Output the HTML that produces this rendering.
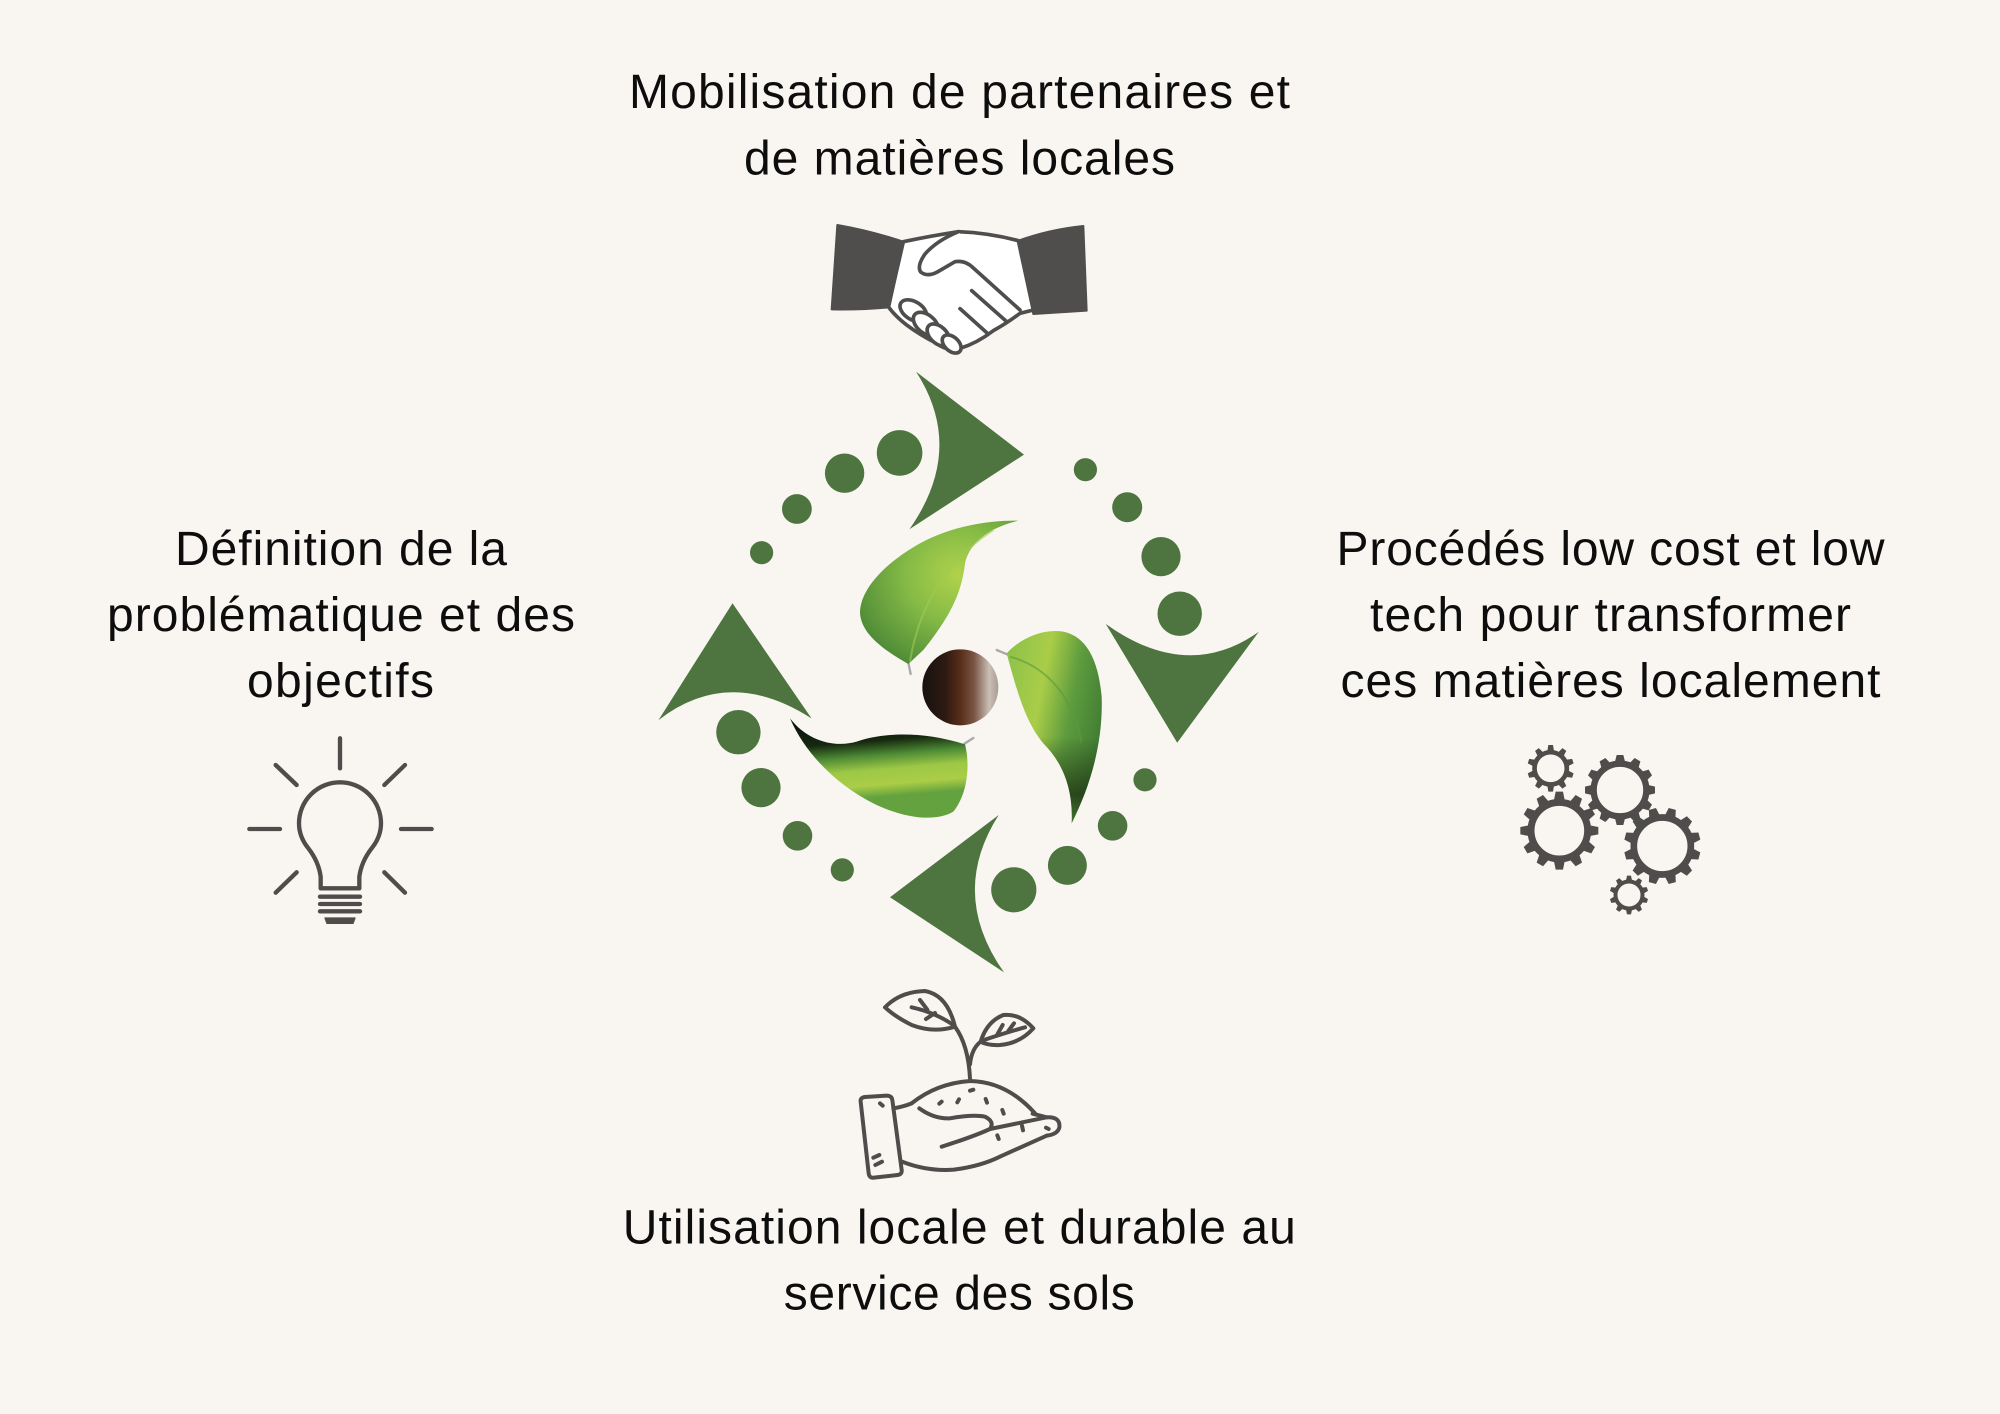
<!DOCTYPE html>
<html>
<head>
<meta charset="utf-8">
<style>
  html,body{margin:0;padding:0;background:#f9f6f1;}
  svg{display:block;}
  text{font-family:"Liberation Sans", Arial, sans-serif;font-size:48px;fill:#0d0d0d;text-anchor:middle;}
</style>
</head>
<body>
<svg width="2000" height="1414" viewBox="0 0 2000 1414" xmlns="http://www.w3.org/2000/svg">
  <defs>
    <linearGradient id="brown" x1="0" y1="0" x2="1" y2="0">
      <stop offset="0" stop-color="#171110"/>
      <stop offset="0.3" stop-color="#2e1a12"/>
      <stop offset="0.5" stop-color="#582d18"/>
      <stop offset="0.68" stop-color="#7a5544"/>
      <stop offset="0.88" stop-color="#c9bfb7"/>
      <stop offset="1" stop-color="#a79d95"/>
    </linearGradient>
    <radialGradient id="leaf1" cx="0.62" cy="0.38" r="0.72">
      <stop offset="0" stop-color="#b0d24a"/>
      <stop offset="0.45" stop-color="#86bb46"/>
      <stop offset="1" stop-color="#4c8936"/>
    </radialGradient>
    <linearGradient id="leaf2" x1="0" y1="0.2" x2="1" y2="0.6">
      <stop offset="0" stop-color="#8fc24a"/>
      <stop offset="0.35" stop-color="#aacd48"/>
      <stop offset="0.65" stop-color="#5e9c3e"/>
      <stop offset="1" stop-color="#3f7a32"/>
    </linearGradient>
    <linearGradient id="leaf2dark" x1="0" y1="0" x2="0" y2="1">
      <stop offset="0.55" stop-color="#1a2a10" stop-opacity="0"/>
      <stop offset="0.85" stop-color="#1a2a10" stop-opacity="0.7"/>
      <stop offset="1" stop-color="#1a2a10" stop-opacity="0.2"/>
    </linearGradient>
    <linearGradient id="leaf3" x1="0" y1="0.05" x2="0.12" y2="0.85">
      <stop offset="0" stop-color="#0a1208"/>
      <stop offset="0.3" stop-color="#16280f"/>
      <stop offset="0.48" stop-color="#4d8a35"/>
      <stop offset="0.66" stop-color="#9cc846"/>
      <stop offset="0.85" stop-color="#abcd47"/>
      <stop offset="1" stop-color="#63a23e"/>
    </linearGradient>
  </defs>

  <rect width="2000" height="1414" fill="#f9f6f1"/>

  <!-- TEXT -->
  <text x="959.5" y="108" textLength="661" lengthAdjust="spacing">Mobilisation de partenaires et</text>
  <text x="959.5" y="174.5" textLength="431" lengthAdjust="spacing">de matières locales</text>

  <text x="341" y="565" textLength="332" lengthAdjust="spacing">Définition de la</text>
  <text x="341" y="631" textLength="468" lengthAdjust="spacing">problématique et des</text>
  <text x="340.5" y="697" textLength="187" lengthAdjust="spacing">objectifs</text>

  <text x="1610.5" y="565" textLength="548" lengthAdjust="spacing">Procédés low cost et low</text>
  <text x="1610.5" y="631" textLength="481" lengthAdjust="spacing">tech pour transformer</text>
  <text x="1610.5" y="697" textLength="540" lengthAdjust="spacing">ces matières localement</text>

  <text x="959.3" y="1243.5" textLength="673" lengthAdjust="spacing">Utilisation locale et durable au</text>
  <text x="959.3" y="1309.5" textLength="351" lengthAdjust="spacing">service des sols</text>

  <!-- CENTER GRAPHIC: arrowheads + dots -->
  <g fill="#4e7440">
    <path d="M916,371.6 L1024,454.6 L909.4,529.3 Q965.9,448.7 916,371.6 Z"/>
    <circle cx="899.6" cy="452.9" r="22.8"/>
    <circle cx="844.6" cy="473.2" r="19.7"/>
    <circle cx="796.9" cy="509" r="14.9"/>
    <circle cx="761.6" cy="552.7" r="11.6"/>
    <path d="M732.5,603.2 L811.6,718.5 Q729.2,665.3 658.5,720.1 Z"/>
    <circle cx="738.4" cy="732.2" r="22.2"/>
    <circle cx="761" cy="787.6" r="19.6"/>
    <circle cx="797.5" cy="835.8" r="14.8"/>
    <circle cx="842.3" cy="869.9" r="11.6"/>
    <path d="M890,897.2 L998.7,815 Q948.6,893.6 1004,972.4 Z"/>
    <circle cx="1013.8" cy="889.8" r="22.6"/>
    <circle cx="1067.4" cy="865.4" r="19.5"/>
    <circle cx="1112.6" cy="825.8" r="14.8"/>
    <circle cx="1145" cy="779.8" r="11.6"/>
    <path d="M1105.8,624 Q1187.5,682.4 1258.8,631.8 L1177.2,742.8 Z"/>
    <circle cx="1179.7" cy="613.7" r="22.2"/>
    <circle cx="1161" cy="556.6" r="19.6"/>
    <circle cx="1127.2" cy="507.2" r="15"/>
    <circle cx="1085.4" cy="469.7" r="11.6"/>
  </g>

  <!-- LEAVES + SEED (zoom coords, 3x) -->
  <g transform="translate(780,510) scale(0.33333)">
    <g stroke="#a9a9a9" stroke-width="7" stroke-linecap="round" fill="none">
      <path d="M385,458 L392,492"/>
      <path d="M650,420 L684,434"/>
      <path d="M552,702 L580,684"/>
    </g>
    <path d="M385,462 C330,430 245,380 240,310 C240,230 330,150 420,100 C520,45 640,30 715,32 C640,50 570,90 555,160 C545,250 510,320 430,420 L385,462 Z" fill="url(#leaf1)"/>
    <path d="M390,455 C410,330 470,170 640,60" stroke="#9ccb55" stroke-width="6" fill="none" opacity="0.6"/>
    <path d="M680,430 C720,385 790,355 850,365 C920,380 955,450 965,560 C970,700 930,830 875,940 C880,840 850,760 790,700 C740,640 715,560 680,430 Z" fill="url(#leaf2)"/>
    <path d="M680,430 C720,385 790,355 850,365 C920,380 955,450 965,560 C970,700 930,830 875,940 C880,840 850,760 790,700 C740,640 715,560 680,430 Z" fill="url(#leaf2dark)"/>
    <path d="M690,440 C800,470 880,560 905,700" stroke="#5d9a3e" stroke-width="6" fill="none" opacity="0.6"/>
    <path d="M30,625 C80,690 160,715 230,695 C300,670 420,660 555,703 C570,760 565,850 520,905 C460,940 360,920 280,880 C180,830 80,740 30,625 Z" fill="url(#leaf3)"/>
    <circle cx="541" cy="532" r="114" fill="url(#brown)"/>
  </g>

  <!-- HANDSHAKE (zoom coords 3x) -->
  <g transform="translate(820,210) scale(0.33333)" stroke="#4f4e4c" stroke-width="11" stroke-linejoin="round" stroke-linecap="round">
    <path d="M250,95 Q330,78 415,65 Q505,68 595,92 L640,300 L600,310 Q560,340 520,362 Q470,400 420,415 Q380,425 350,400 Q300,375 260,345 Q225,318 205,290 Z" fill="#ffffff"/>
    <path d="M415,65 Q350,92 315,132 Q290,168 302,186 Q322,202 352,186 L405,155 Q435,150 458,172 L600,300" fill="#ffffff"/>
    <path d="M455,242 L560,335" fill="none"/>
    <path d="M420,296 L500,368" fill="none"/>
    <ellipse cx="280" cy="302" rx="44" ry="27" transform="rotate(32 280 302)" fill="#ffffff"/>
    <ellipse cx="318" cy="342" rx="44" ry="27" transform="rotate(40 318 342)" fill="#ffffff"/>
    <ellipse cx="355" cy="375" rx="40" ry="25" transform="rotate(44 355 375)" fill="#ffffff"/>
    <ellipse cx="395" cy="402" rx="33" ry="21" transform="rotate(42 395 402)" fill="#ffffff"/>
    <path d="M52,45 Q150,62 250,95 L208,292 Q120,300 35,298 Z" fill="#4f4e4c" stroke-width="6"/>
    <path d="M595,92 Q690,58 790,48 L800,302 L640,312 Z" fill="#4f4e4c" stroke-width="6"/>
  </g>

  <!-- LIGHTBULB (zoom coords 3x) -->
  <g transform="translate(230,720) scale(0.33333)" stroke="#4f4d4b" stroke-width="13" stroke-linecap="round" stroke-linejoin="round" fill="none">
    <path d="M330,55 V145"/>
    <path d="M137,135 L200,195"/>
    <path d="M525,135 L463,195"/>
    <path d="M58,327 H150"/>
    <path d="M513,327 H605"/>
    <path d="M137,518 L200,457"/>
    <path d="M525,518 L463,457"/>
    <path d="M272,505 L272,470 Q266,425 235,385 Q207,350 207,310 A123,123 0 1 1 453,310 Q453,350 425,385 Q394,425 388,470 L388,505 Z"/>
    <path d="M270,530 H390"/>
    <path d="M270,552 H390"/>
    <path d="M270,574 H390"/>
    <path d="M285,594 H375 L369,610 H291 Z" fill="#4f4d4b" stroke-width="4"/>
  </g>

  <!-- GEARS (zoom coords 3x) -->
  <g transform="translate(1510,740) scale(0.33333)" fill="#4f4d4b" stroke="none">
    <!-- A -->
    <g transform="translate(122,85)">
      <circle r="48.5" fill="none" stroke="#4f4d4b" stroke-width="14"/>
      <path d="M-10,-52 L-7,-70 L7,-70 L10,-52 Z"/>
      <path d="M-10,-52 L-7,-70 L7,-70 L10,-52 Z" transform="rotate(36)"/>
      <path d="M-10,-52 L-7,-70 L7,-70 L10,-52 Z" transform="rotate(72)"/>
      <path d="M-10,-52 L-7,-70 L7,-70 L10,-52 Z" transform="rotate(108)"/>
      <path d="M-10,-52 L-7,-70 L7,-70 L10,-52 Z" transform="rotate(144)"/>
      <path d="M-10,-52 L-7,-70 L7,-70 L10,-52 Z" transform="rotate(180)"/>
      <path d="M-10,-52 L-7,-70 L7,-70 L10,-52 Z" transform="rotate(216)"/>
      <path d="M-10,-52 L-7,-70 L7,-70 L10,-52 Z" transform="rotate(252)"/>
      <path d="M-10,-52 L-7,-70 L7,-70 L10,-52 Z" transform="rotate(288)"/>
      <path d="M-10,-52 L-7,-70 L7,-70 L10,-52 Z" transform="rotate(324)"/>
    </g>
    <!-- B -->
    <g transform="translate(148,272)">
      <circle r="85" fill="none" stroke="#4f4d4b" stroke-width="21"/>
      <path d="M-16,-92 L-11,-117 L11,-117 L16,-92 Z"/>
      <path d="M-16,-92 L-11,-117 L11,-117 L16,-92 Z" transform="rotate(30)"/>
      <path d="M-16,-92 L-11,-117 L11,-117 L16,-92 Z" transform="rotate(60)"/>
      <path d="M-16,-92 L-11,-117 L11,-117 L16,-92 Z" transform="rotate(90)"/>
      <path d="M-16,-92 L-11,-117 L11,-117 L16,-92 Z" transform="rotate(120)"/>
      <path d="M-16,-92 L-11,-117 L11,-117 L16,-92 Z" transform="rotate(150)"/>
      <path d="M-16,-92 L-11,-117 L11,-117 L16,-92 Z" transform="rotate(180)"/>
      <path d="M-16,-92 L-11,-117 L11,-117 L16,-92 Z" transform="rotate(210)"/>
      <path d="M-16,-92 L-11,-117 L11,-117 L16,-92 Z" transform="rotate(240)"/>
      <path d="M-16,-92 L-11,-117 L11,-117 L16,-92 Z" transform="rotate(270)"/>
      <path d="M-16,-92 L-11,-117 L11,-117 L16,-92 Z" transform="rotate(300)"/>
      <path d="M-16,-92 L-11,-117 L11,-117 L16,-92 Z" transform="rotate(330)"/>
    </g>
    <!-- C -->
    <g transform="translate(330,150)">
      <circle r="79" fill="none" stroke="#4f4d4b" stroke-width="19"/>
      <path d="M-15,-85 L-10,-105 L10,-105 L15,-85 Z"/>
      <path d="M-15,-85 L-10,-105 L10,-105 L15,-85 Z" transform="rotate(30)"/>
      <path d="M-15,-85 L-10,-105 L10,-105 L15,-85 Z" transform="rotate(60)"/>
      <path d="M-15,-85 L-10,-105 L10,-105 L15,-85 Z" transform="rotate(90)"/>
      <path d="M-15,-85 L-10,-105 L10,-105 L15,-85 Z" transform="rotate(120)"/>
      <path d="M-15,-85 L-10,-105 L10,-105 L15,-85 Z" transform="rotate(150)"/>
      <path d="M-15,-85 L-10,-105 L10,-105 L15,-85 Z" transform="rotate(180)"/>
      <path d="M-15,-85 L-10,-105 L10,-105 L15,-85 Z" transform="rotate(210)"/>
      <path d="M-15,-85 L-10,-105 L10,-105 L15,-85 Z" transform="rotate(240)"/>
      <path d="M-15,-85 L-10,-105 L10,-105 L15,-85 Z" transform="rotate(270)"/>
      <path d="M-15,-85 L-10,-105 L10,-105 L15,-85 Z" transform="rotate(300)"/>
      <path d="M-15,-85 L-10,-105 L10,-105 L15,-85 Z" transform="rotate(330)"/>
    </g>
    <!-- D -->
    <g transform="translate(457,318)">
      <circle r="85.5" fill="none" stroke="#4f4d4b" stroke-width="20"/>
      <path d="M-16,-92 L-11,-115 L11,-115 L16,-92 Z" transform="rotate(15)"/>
      <path d="M-16,-92 L-11,-115 L11,-115 L16,-92 Z" transform="rotate(45)"/>
      <path d="M-16,-92 L-11,-115 L11,-115 L16,-92 Z" transform="rotate(75)"/>
      <path d="M-16,-92 L-11,-115 L11,-115 L16,-92 Z" transform="rotate(105)"/>
      <path d="M-16,-92 L-11,-115 L11,-115 L16,-92 Z" transform="rotate(135)"/>
      <path d="M-16,-92 L-11,-115 L11,-115 L16,-92 Z" transform="rotate(165)"/>
      <path d="M-16,-92 L-11,-115 L11,-115 L16,-92 Z" transform="rotate(195)"/>
      <path d="M-16,-92 L-11,-115 L11,-115 L16,-92 Z" transform="rotate(225)"/>
      <path d="M-16,-92 L-11,-115 L11,-115 L16,-92 Z" transform="rotate(255)"/>
      <path d="M-16,-92 L-11,-115 L11,-115 L16,-92 Z" transform="rotate(285)"/>
      <path d="M-16,-92 L-11,-115 L11,-115 L16,-92 Z" transform="rotate(315)"/>
      <path d="M-16,-92 L-11,-115 L11,-115 L16,-92 Z" transform="rotate(345)"/>
    </g>
    <!-- E -->
    <g transform="translate(357,465)">
      <circle r="40.5" fill="none" stroke="#4f4d4b" stroke-width="12"/>
      <path d="M-9,-44 L-6,-58 L6,-58 L9,-44 Z"/>
      <path d="M-9,-44 L-6,-58 L6,-58 L9,-44 Z" transform="rotate(36)"/>
      <path d="M-9,-44 L-6,-58 L6,-58 L9,-44 Z" transform="rotate(72)"/>
      <path d="M-9,-44 L-6,-58 L6,-58 L9,-44 Z" transform="rotate(108)"/>
      <path d="M-9,-44 L-6,-58 L6,-58 L9,-44 Z" transform="rotate(144)"/>
      <path d="M-9,-44 L-6,-58 L6,-58 L9,-44 Z" transform="rotate(180)"/>
      <path d="M-9,-44 L-6,-58 L6,-58 L9,-44 Z" transform="rotate(216)"/>
      <path d="M-9,-44 L-6,-58 L6,-58 L9,-44 Z" transform="rotate(252)"/>
      <path d="M-9,-44 L-6,-58 L6,-58 L9,-44 Z" transform="rotate(288)"/>
      <path d="M-9,-44 L-6,-58 L6,-58 L9,-44 Z" transform="rotate(324)"/>
    </g>
  </g>

  <!-- PLANT IN HAND (zoom coords 3x) -->
  <g transform="translate(840,975) scale(0.33333)" stroke="#4f4d4b" stroke-width="12" stroke-linecap="round" stroke-linejoin="round" fill="none">
    <path d="M135,97 Q180,50 255,48 Q322,60 345,155 Q280,175 215,150 Q165,125 135,97 Z"/>
    <path d="M215,97 Q285,112 340,150"/>
    <path d="M240,75 L262,104"/>
    <path d="M258,132 L285,114"/>
    <path d="M345,155 Q385,210 390,310"/>
    <path d="M390,268 Q395,218 425,198"/>
    <path d="M422,200 Q440,140 490,120 Q540,115 580,160 Q540,205 480,210 Q445,212 422,200 Z"/>
    <path d="M432,195 Q500,172 555,157"/>
    <path d="M472,178 L488,150"/>
    <path d="M505,168 L522,145"/>
    <path d="M215,385 Q290,325 390,318 Q500,320 585,415"/>
    <path d="M298,386 L305,380"/>
    <path d="M352,382 L357,373"/>
    <path d="M390,347 L400,344"/>
    <path d="M437,372 L441,383"/>
    <path d="M487,405 L491,416"/>
    <path d="M62,380 Q60,368 75,366 L140,362 Q155,362 157,375 L185,585 Q187,598 172,600 L102,608 Q88,610 86,595 Z"/>
    <path d="M120,385 L128,392"/>
    <path d="M100,548 L118,540"/>
    <path d="M106,570 L126,560"/>
    <path d="M160,400 Q190,395 215,385"/>
    <path d="M238,400 Q282,432 330,430 Q400,418 435,425 Q465,440 450,462 Q400,485 305,515"/>
    <path d="M450,462 L620,427 Q662,425 658,458 Q652,478 620,482"/>
    <path d="M578,416 L620,427"/>
    <path d="M186,560 Q262,590 342,584 Q422,574 482,544 L620,482"/>
    <path d="M546,452 L549,466"/>
    <path d="M472,481 L476,492"/>
    <path d="M618,458 L626,462"/>
  </g>
</svg>
</body>
</html>
